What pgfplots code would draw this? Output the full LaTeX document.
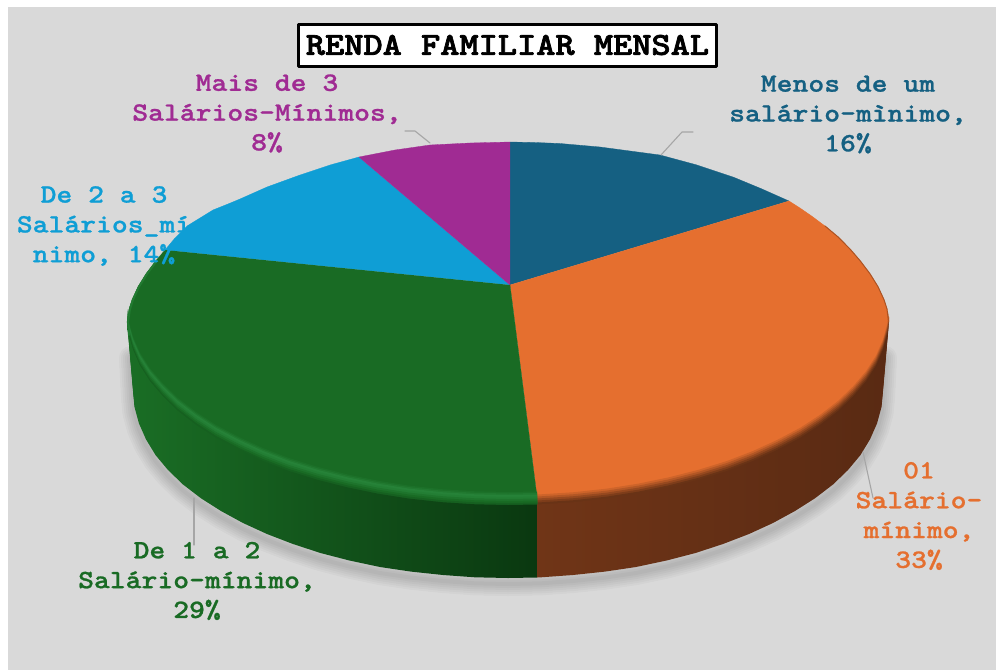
\documentclass[border=0pt]{standalone}
\usepackage{fontspec}
\newfontfamily\cour[Extension=.otf,FakeStretch=1.143,FakeBold=0.9]{lmmonolt10-bold}
\newfontfamily\court[Extension=.otf,FakeStretch=1.143,FakeBold=2.2]{lmmonolt10-bold}
\usepackage{pgfplots}
\usepackage{pgfplotstable}
\pgfplotsset{compat=1.18}
\definecolor{bg}{HTML}{D9D9D9}
\definecolor{cblue}{HTML}{156082}
\definecolor{corange}{HTML}{E56F2F}
\definecolor{cgreen}{HTML}{196B24}
\definecolor{clight}{HTML}{0F9ED5}
\definecolor{cpurple}{HTML}{A02B93}
\definecolor{lead}{HTML}{A6A6A6}
\definecolor{ghigh}{HTML}{2A8A3E}
\definecolor{gone}{HTML}{1A6E25}
\definecolor{gtwo}{HTML}{104A16}
\definecolor{gthree}{HTML}{0A3810}
\definecolor{oone}{HTML}{703517}
\definecolor{otwo}{HTML}{592A13}
\pgfplotstableread{
x y
510 285
510 142
535 142.5
560 143.5
600 147
630 151
660 155
697 165
733 177
762 189
789 201
}\wedgeblue
\pgfplotstableread{
x y
510 285
789 201
800 208
812 216.3
825 226
838 236.9
850 249
860 260.6
870 273.8
878 286.7
884 299.7
887 309
889 322
889 317
887.5 333.4
883 349.6
876 365.7
866 381.3
853 396.5
838 411
820 424.9
800 437.9
777 450
753 461
727 471
698.5 479.8
669 487.3
638 493.7
607 498.6
574 502.2
538 504.5
}\wedgeorange
\pgfplotstableread{
x y
510 285
538 504.5
508 505
475 504.3
442 502.2
409 498.6
378 493.7
347 487.3
317.5 479.8
289 471
263 461
239 450
216 437.9
196 424.9
178 411
163 396.5
150 381.3
140 365.7
133 349.6
128.5 333.4
127 322
129 309
132 299.7
138 286.7
146 273.8
156 260.6
165 250
}\wedgegreen
\pgfplotstableread{
x y
510 285
165 250
175 238
187 226
200 218
213 210
228 204
240 199
267 187
300 175
330 165
359 157
}\wedgelight
\pgfplotstableread{
x y
510 285
359 157
395 150
430 145
470 143
510 142
}\wedgepurple
\pgfplotstableread{
x y
537 504.5
541 504.3
574 502.2
607 498.6
638 493.7
669 487.3
698.5 479.8
727 471
753 461
777 450
800 437.9
820 424.9
838 411
853 396.5
866 381.3
876 365.7
883 349.6
887.5 333.4
889 322
883 391
881.5 407
877 423.5
870 439.4
860.5 455
848 470
833 484.5
815 498.3
795 511
773 523
749 534
723 544
695.5 553
667 560.4
636 567
605 571.6
573 575
541 577.3
537 577.5
}\sideorange
\pgfplotstableread{
x y
127 322
128.5 333.4
133 349.6
140 365.7
150 381.3
163 396.5
178 411
196 424.9
216 437.9
239 450
263 461
289 471
317.5 479.8
347 487.3
378 493.7
409 498.6
442 502.2
475 504.3
508 505
537 504.5
537 577.5
508 578
475 577.3
443 575
411 571.6
380 567
349 560.4
320.5 553
293 544
267 534
243 523
221 511
201 498.3
183 484.5
168 470
155.5 455
146 439.4
139 423.5
134.5 407
133 391
}\sidegreen
\pgfplotstableread{
x y
131 352
133 391
134.5 407
139 423.5
146 439.4
155.5 455
168 470
183 484.5
201 498.3
221 511
243 523
267 534
293 544
320.5 553
349 560.4
380 567
411 571.6
443 575
475 577.3
508 578
541 577.3
573 575
605 571.6
636 567
667 560.4
695.5 553
723 544
749 534
773 523
795 511
815 498.3
833 484.5
848 470
860.5 455
870 439.4
877 423.5
881.5 407
883 391
885 352
}\shadowline
\begin{document}
\begin{tikzpicture}
\begin{axis}[
  width=996pt,height=670pt,scale only axis,
  xmin=0,xmax=996,ymin=0,ymax=670,y dir=reverse,
  hide axis,enlargelimits=false,
  /tikz/line join=round,/tikz/line cap=round,
]
% page and panel
\addplot[fill=white,draw=none] coordinates {(0,0)(996,0)(996,670)(0,670)};
\addplot[fill=bg,draw=none] coordinates {(8,7)(996,7)(996,670)(8,670)};
% soft shadow
\addplot[draw=black,draw opacity=0.028,line width=24pt,yshift=-6pt] table {\shadowline};
\addplot[draw=black,draw opacity=0.028,line width=20pt,yshift=-6pt] table {\shadowline};
\addplot[draw=black,draw opacity=0.028,line width=16pt,yshift=-6pt] table {\shadowline};
\addplot[draw=black,draw opacity=0.028,line width=12pt,yshift=-6pt] table {\shadowline};
\addplot[draw=black,draw opacity=0.028,line width=8pt,yshift=-6pt] table {\shadowline};
\addplot[draw=black,draw opacity=0.028,line width=4pt,yshift=-6pt] table {\shadowline};
% top wedges
\addplot[fill=cblue,draw=cblue,line width=0.3pt] table {\wedgeblue};
\addplot[fill=clight,draw=clight,line width=0.3pt] table {\wedgelight};
\addplot[fill=cpurple,draw=cpurple,line width=0.3pt] table {\wedgepurple};
\addplot[fill=corange,draw=corange,line width=0.3pt] table {\wedgeorange};
\addplot[fill=cgreen,draw=cgreen,line width=0.3pt] table {\wedgegreen};
% bevel, orange
\addplot[fill=corange!90!black,draw=none,yshift=10pt] table {\sideorange};
\addplot[fill=corange!78!black,draw=none,yshift=8pt] table {\sideorange};
\addplot[fill=corange!66!black,draw=none,yshift=6pt] table {\sideorange};
\addplot[fill=corange!55!black,draw=none,yshift=4pt] table {\sideorange};
\addplot[fill=corange!46!black,draw=none,yshift=2pt] table {\sideorange};
% bevel, green
\addplot[fill=ghigh!20!cgreen,draw=none,yshift=13pt] table {\sidegreen};
\addplot[fill=ghigh!45!cgreen,draw=none,yshift=11.5pt] table {\sidegreen};
\addplot[fill=ghigh!75!cgreen,draw=none,yshift=10pt] table {\sidegreen};
\addplot[fill=ghigh!60!cgreen,draw=none,yshift=8pt] table {\sidegreen};
\addplot[fill=ghigh!30!cgreen,draw=none,yshift=6pt] table {\sidegreen};
\addplot[fill=cgreen,draw=none,yshift=4pt] table {\sidegreen};
\addplot[fill=cgreen!90!black,draw=none,yshift=2pt] table {\sidegreen};
% sides
\addplot[shade,left color=gone,middle color=gtwo,right color=gthree,draw=none] table {\sidegreen};
\addplot[shade,left color=oone,middle color=otwo,right color=otwo,draw=none] table {\sideorange};
% edge accents
\addplot[draw=corange!75!black,line width=1pt] coordinates {(825,226)(838,236.9)(850,249)(860,260.6)(870,273.8)(878,286.7)(884,299.7)(887,309)(888.5,322)};
\addplot[draw=ghigh!50!cgreen,line width=2pt] coordinates {(129,335)(128,322)(130,309)(133,299.7)(139,286.7)(147,273.8)(157,260.6)};
% leader lines
\addplot[draw=lead,line width=1.1pt] coordinates {(430,143)(415,131)(405,131)};
\addplot[draw=lead,line width=1.1pt] coordinates {(661,155)(682,132)(693,132)};
\addplot[draw=lead,line width=1.1pt] coordinates {(194,498)(194,545)};
\addplot[draw=lead,line width=1.1pt] coordinates {(863,452)(873,498)};
% texts
\node[draw=black,line width=3pt,fill=white,minimum width=418pt,minimum height=42pt,inner sep=0pt,
  font=\fontsize{32}{32}\selectfont\court,text=black] at (axis cs:507.5,45) {RENDA FAMILIAR MENSAL};
\tikzset{lab/.style={align=center,inner sep=0pt,font=\fontsize{26.4}{29.8}\selectfont\cour}}
\node[lab,text=cpurple] at (axis cs:267,113.5) {Mais de 3\\Salários-Mínimos,\\8\%};
\node[lab,text=cblue] at (axis cs:848,114.5) {Menos de um\\salário-mìnimo,\\16\%};
\node[lab,text=clight] at (axis cs:104,226) {De 2 a 3\\Salários\_mí\\nimo, 14\%};
\node[lab,text=cgreen] at (axis cs:197,581) {De 1 a 2\\Salário-mínimo,\\29\%};
\node[lab,text=corange] at (axis cs:919,516) {01\\Salário-\\mínimo,\\33\%};
\end{axis}
\end{tikzpicture}
\end{document}
